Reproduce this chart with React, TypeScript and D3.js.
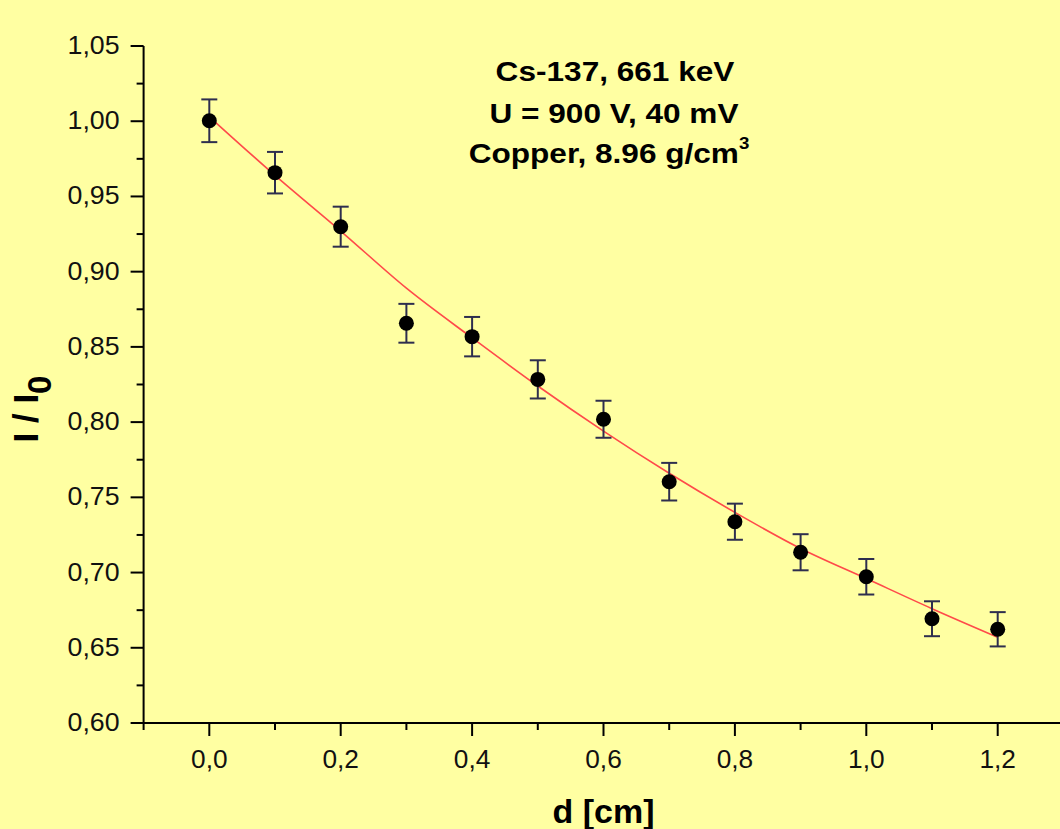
import React from "react";
import * as d3 from "d3";

const thickness = [0, 0.1, 0.2, 0.3, 0.4, 0.5, 0.6, 0.7, 0.8, 0.9, 1.0, 1.1, 1.2];
const ratio = [1.0003, 0.9658, 0.9299, 0.8657, 0.8568, 0.8284, 0.8019, 0.7604, 0.7338, 0.7135, 0.6972, 0.6693, 0.6623];
const ratioError = [0.0142, 0.0138, 0.0133, 0.0129, 0.0131, 0.0127, 0.0123, 0.0125, 0.012, 0.012, 0.0118, 0.0116, 0.0114];
const fitCurve = [1.003, 0.964, 0.927, 0.889, 0.856, 0.824, 0.794, 0.766, 0.740, 0.716, 0.696, 0.676, 0.657];

const xMajorTicks = [0, 0.2, 0.4, 0.6, 0.8, 1.0, 1.2];
const xMinorTicks = [-0.1, 0.1, 0.3, 0.5, 0.7, 0.9, 1.1];
const yMajorTicks = [0.6, 0.65, 0.7, 0.75, 0.8, 0.85, 0.9, 0.95, 1.0, 1.05];
const yMinorTicks = [0.625, 0.675, 0.725, 0.775, 0.825, 0.875, 0.925, 0.975, 1.025];

const annotationLines = ["Cs-137, 661 keV", "U = 900 V, 40 mV", "Copper, 8.96 g/cm"];

const W = 1060;
const H = 829;
const BG = "#ffffa2";
const FONT = "'Liberation Sans', Arial, sans-serif";

export default function App() {
  const x = d3.scaleLinear().domain([-0.1, 1.3]).range([143.6, 1063.4]);
  const y = d3.scaleLinear().domain([0.6, 1.05]).range([723, 46]);
  const fmtX = (v: number) => d3.format(".1f")(v).replace(".", ",");
  const fmtY = (v: number) => d3.format(".2f")(v).replace(".", ",");

  const fitLine = d3
    .line<number>()
    .x((_, i) => x(thickness[i]))
    .y((v) => y(v))
    .curve(d3.curveMonotoneX)(fitCurve) as string;

  const x0 = x(-0.1);
  const yBase = y(0.6);

  return (
    <div style={{ position: "absolute", left: 0, top: 0 }}>
      <svg width={W} height={H} style={{ display: "block" }}>
        <rect x={0} y={0} width={W} height={H} fill={BG} />

        {/* fit curve */}
        <path d={fitLine} fill="none" stroke="#ff4a4a" strokeWidth={1.6} />

        {/* error bars */}
        {thickness.map((d, i) => {
          const cx = x(d);
          const yt = y(ratio[i] + ratioError[i]);
          const yb = y(ratio[i] - ratioError[i]);
          return (
            <g key={"e" + i} stroke="#2e2e4e" strokeWidth={2}>
              <line x1={cx} x2={cx} y1={yt} y2={yb} />
              <line x1={cx - 8} x2={cx + 8} y1={yt} y2={yt} />
              <line x1={cx - 8} x2={cx + 8} y1={yb} y2={yb} />
            </g>
          );
        })}

        {/* points */}
        {thickness.map((d, i) => (
          <circle key={"p" + i} cx={x(d)} cy={y(ratio[i])} r={7.5} fill="#000" />
        ))}

        {/* axes */}
        <g stroke="#000" strokeWidth={2} fill="none">
          <line x1={x0} x2={x0} y1={y(1.05)} y2={yBase + 1} />
          <line x1={x0 - 1} x2={W} y1={yBase} y2={yBase} />
          {yMajorTicks.map((t) => (
            <line key={"ym" + t} x1={x0 - 13} x2={x0} y1={y(t)} y2={y(t)} />
          ))}
          {yMinorTicks.map((t) => (
            <line key={"yn" + t} x1={x0 - 7} x2={x0} y1={y(t)} y2={y(t)} />
          ))}
          {xMajorTicks.map((t) => (
            <line key={"xm" + t} x1={x(t)} x2={x(t)} y1={yBase} y2={yBase + 13} />
          ))}
          {xMinorTicks.map((t) => (
            <line key={"xn" + t} x1={x(t)} x2={x(t)} y1={yBase} y2={yBase + 7} />
          ))}
        </g>

        {/* tick labels */}
        <g fontFamily={FONT} fontSize={25} fill="#111">
          {yMajorTicks.map((t) => (
            <text
              key={"yl" + t}
              transform={`translate(${x0 - 24},${y(t) + 8}) scale(1.07,1)`}
              textAnchor="end"
            >
              {fmtY(t)}
            </text>
          ))}
          {xMajorTicks.map((t) => (
            <text
              key={"xl" + t}
              transform={`translate(${x(t)},${yBase + 45}) scale(1.05,1)`}
              textAnchor="middle"
            >
              {fmtX(t)}
            </text>
          ))}
        </g>

        {/* axis titles */}
        <text
          x={(x0 + x(1.3)) / 2}
          y={823}
          textAnchor="middle"
          fontFamily={FONT}
          fontWeight="bold"
          fontSize={34}
          fill="#000"
        >
          d [cm]
        </text>
        <text
          transform={`translate(38,409) rotate(-90)`}
          textAnchor="middle"
          fontFamily={FONT}
          fontWeight="bold"
          fontSize={35}
          fill="#000"
        >
          I / I
          <tspan dy={13} fontSize={33}>0</tspan>
        </text>

        {/* annotation */}
        <g fontFamily={FONT} fontWeight="bold" fontSize={27} fill="#000">
          <text transform="translate(615,81) scale(1.17,1)" textAnchor="middle">
            {annotationLines[0]}
          </text>
          <text transform="translate(614,122.7) scale(1.17,1)" textAnchor="middle">
            {annotationLines[1]}
          </text>
          <text transform="translate(609,162.7) scale(1.17,1)" textAnchor="middle">
            {annotationLines[2]}
            <tspan dy={-14} fontSize={16}>3</tspan>
          </text>
        </g>
      </svg>
    </div>
  );
}
